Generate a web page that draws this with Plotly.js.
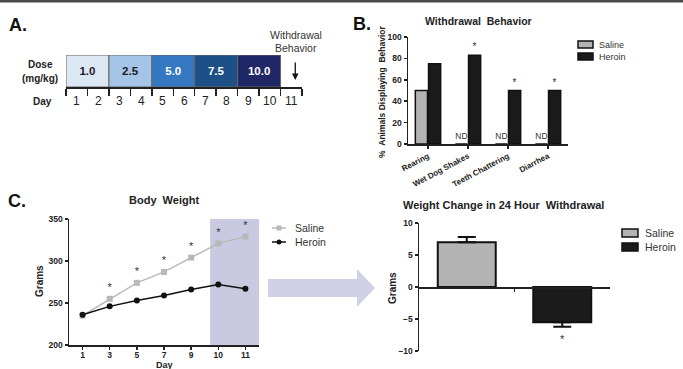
<!DOCTYPE html>
<html><head><meta charset="utf-8">
<script src="https://cdn.plot.ly/plotly-3.0.1.min.js"></script>
<style>html,body{margin:0;padding:0;background:#fff;}#chart{width:683px;height:369px;}</style>
</head><body><div id="chart"></div>
<script>
// ---------- Panel A: dosing schedule ----------
const doseLabels = ["1.0", "2.5", "5.0", "7.5", "10.0"];
const doseStartDay = [1, 3, 5, 7, 9];
const days = [1, 2, 3, 4, 5, 6, 7, 8, 9, 10, 11];
// ---------- Panel B: withdrawal behavior ----------
const behaviors = ["Rearing", "Wet Dog Shakes", "Teeth Chattering", "Diarrhea"];
const salineBehavior = [50, 0, 0, 0];
const heroinBehavior = [75, 83, 50, 50];
const salineBehaviorNote = ["", "ND", "ND", "ND"];
const heroinBehaviorNote = ["", "*", "*", "*"];
// ---------- Panel C: body weight ----------
const weightDays = ["1", "3", "5", "7", "9", "10", "11"];
const salineWeight = [235, 255, 274, 287, 304, 321, 329];
const heroinWeight = [236, 246, 253, 259, 266, 272, 267];
const weightSig = ["", "*", "*", "*", "*", "*", "*"];
// ---------- Panel D: weight change ----------
const groups = ["Saline", "Heroin"];
const weightChange = [7.0, -5.5];
const weightChangeErr = [0.8, 0.7];

// styles
const W = 683, H = 369;
const px = p => p / W, py = p => 1 - p / H;
const FONT = "Liberation Sans, Arial, sans-serif";
const INK = "#222";
const doseColors = ["#dde7f3", "#a6c4e5", "#3478c2", "#1e5088", "#202766"];
const doseTextColors = ["#1a1a2a", "#1a1a2a", "#ffffff", "#ffffff", "#ffffff"];
const salineGray = "#b3b3b3", heroinBlack = "#1b1b1b";
const salineLine = "#b8b8b8";

const traces = [
  {
    type: "bar", x: doseStartDay.map(d => d + 0.5), y: doseLabels.map(() => 1), base: 0, width: 2,
    text: doseLabels, textposition: "inside", insidetextanchor: "middle", constraintext: "none",
    textangle: 0,
    textfont: {family: FONT, size: 11.5, weight: "bold", color: doseTextColors},
    marker: {color: doseColors, line: {color: "#666", width: 1}},
    xaxis: "x", yaxis: "y", hoverinfo: "skip", showlegend: false
  },
  {
    type: "bar", name: "Saline", x: behaviors, y: salineBehavior,
    text: salineBehaviorNote, textposition: "outside", cliponaxis: false,
    textfont: {family: FONT, size: 8.5, color: "#333"},
    marker: {color: salineGray, line: {color: "#111", width: 1.5}},
    xaxis: "x2", yaxis: "y2", showlegend: false
  },
  {
    type: "bar", name: "Heroin", x: behaviors, y: heroinBehavior,
    text: heroinBehaviorNote, textposition: "outside", cliponaxis: false,
    textfont: {family: FONT, size: 10, color: "#333"},
    marker: {color: heroinBlack, line: {color: "#111", width: 1.5}},
    xaxis: "x2", yaxis: "y2", showlegend: false
  },
  {
    type: "scatter", mode: "lines+markers+text", name: "Saline", x: weightDays, y: salineWeight,
    text: weightSig, textposition: "top center", cliponaxis: false,
    textfont: {family: FONT, size: 11, color: "#333"},
    line: {color: salineLine, width: 1.5},
    marker: {symbol: "square", size: 6, color: salineLine},
    xaxis: "x3", yaxis: "y3", showlegend: false
  },
  {
    type: "scatter", mode: "lines+markers", name: "Heroin", x: weightDays, y: heroinWeight,
    line: {color: "#111", width: 1.5},
    marker: {symbol: "circle", size: 6, color: "#111"},
    xaxis: "x3", yaxis: "y3", showlegend: false
  },
  {
    type: "bar", x: groups, y: weightChange,
    marker: {color: [salineGray, heroinBlack], line: {color: "#111", width: 2}},
    error_y: {
      type: "data", symmetric: false,
      array: weightChangeErr.map((e, i) => weightChange[i] >= 0 ? e : 0),
      arrayminus: weightChangeErr.map((e, i) => weightChange[i] < 0 ? e : 0),
      color: "#111", thickness: 2, width: 9
    },
    xaxis: "x4", yaxis: "y4", showlegend: false
  }
];

const tickFont = {family: FONT, size: 8.5, weight: "bold", color: INK};
const axBase = {showgrid: false, zeroline: false, showline: true, linecolor: "#222", linewidth: 1.5,
  ticks: "outside", tickcolor: "#222", tickwidth: 1.5, ticklen: 3, tickfont: tickFont, fixedrange: true};

const ann = (x, y, text, opt = {}) => Object.assign({
  x: px(x), y: py(y), xref: "paper", yref: "paper", text, showarrow: false,
  xanchor: "center", yanchor: "middle",
  font: {family: FONT, size: 10, color: INK}
}, opt);

const annotations = [
  ann(7, 25, "A.", {xanchor: "left", font: {family: FONT, size: 18, weight: "bold", color: "#111"}}),
  ann(351, 24, "B.", {xanchor: "left", font: {family: FONT, size: 18, weight: "bold", color: "#111"}}),
  ann(6, 201, "C.", {xanchor: "left", font: {family: FONT, size: 18, weight: "bold", color: "#111"}}),
  ann(40, 65, "Dose", {font: {family: FONT, size: 10, weight: "bold", color: INK}}),
  ann(40, 79, "(mg/kg)", {font: {family: FONT, size: 10, weight: "bold", color: INK}}),
  ann(42, 101, "Day", {font: {family: FONT, size: 10, weight: "bold", color: INK}}),
  ann(296, 35, "Withdrawal", {font: {family: FONT, size: 10.5, color: "#333"}}),
  ann(296, 48, "Behavior", {font: {family: FONT, size: 10.5, color: "#333"}}),
  {x: 11, xref: "x", y: py(80), yref: "paper", xshift: 4, text: "", showarrow: true,
   ax: 0, ay: -19, arrowhead: 2, arrowsize: 1, arrowwidth: 1.3, arrowcolor: "#111"},
  ann(478, 21, "Withdrawal\u00a0 Behavior", {font: {family: FONT, size: 10.5, weight: "bold", color: INK}}),
  ann(382, 92, "% \u00a0Animals Displaying\u00a0 Behavior", {textangle: -90, font: {family: FONT, size: 8.5, weight: "bold", color: INK}}),
  ann(597, 44.5, groups[0], {xanchor: "left", font: {family: FONT, size: 9, color: "#333"}}),
  ann(597, 56.5, groups[1], {xanchor: "left", font: {family: FONT, size: 9, color: "#333"}}),
  ann(164, 200, "Body\u00a0 Weight", {font: {family: FONT, size: 11, weight: "bold", color: INK}}),
  ann(39, 281, "Grams", {textangle: -90, font: {family: FONT, size: 10, weight: "bold", color: INK}}),
  ann(164, 365, "Day", {font: {family: FONT, size: 9, weight: "bold", color: INK}}),
  ann(293, 228, groups[0], {xanchor: "left", font: {family: FONT, size: 10.5, color: "#333"}}),
  ann(293, 242, groups[1], {xanchor: "left", font: {family: FONT, size: 10.5, color: "#333"}}),
  ann(503.5, 205, "Weight Change in 24 Hour\u00a0 Withdrawal", {font: {family: FONT, size: 11, weight: "bold", color: INK}}),
  ann(392, 288, "Grams", {textangle: -90, font: {family: FONT, size: 10, weight: "bold", color: INK}}),
  ann(643, 233, groups[0], {xanchor: "left", font: {family: FONT, size: 10.5, color: "#333"}}),
  ann(643, 247, groups[1], {xanchor: "left", font: {family: FONT, size: 10.5, color: "#333"}}),
  {x: groups[1], xref: "x4", y: weightChange[1] - weightChangeErr[1], yref: "y4", yshift: -12,
   text: "*", showarrow: false, font: {family: FONT, size: 11, color: "#333"}}
];
days.forEach(d => annotations.push({x: d, xref: "x", y: py(101), yref: "paper", yanchor: "middle",
  text: String(d), showarrow: false, font: {family: FONT, size: 12, color: INK}}));

const rect = (x0, y0, x1, y1, fill, line) => ({type: "rect", xref: "paper", yref: "paper",
  x0: px(x0), x1: px(x1), y0: py(y1), y1: py(y0), fillcolor: fill,
  line: line || {width: 0}});
const arrowPts = [[268, 279], [357, 279], [357, 269], [375, 288], [357, 307], [357, 297], [268, 297]];
const shapes = [
  rect(0, 0, 683, 2.5, "#4a4a4a"),
  {type: "rect", xref: "x3", yref: "y3", x0: 4.7, x1: 6.5, y0: 200, y1: 350, fillcolor: "#c9cae2",
   line: {width: 0}, layer: "below"},
  {type: "path", xref: "paper", yref: "paper", fillcolor: "#d0d1e7", line: {width: 0},
   path: "M" + arrowPts.map(p => px(p[0]) + "," + py(p[1])).join(" L") + " Z"},
  rect(578, 41, 593, 48, salineGray, {color: "#111", width: 1.5}),
  rect(578, 53, 593, 60, heroinBlack, {color: "#111", width: 1.5}),
  {type: "line", xref: "paper", yref: "paper", x0: px(272), x1: px(286), y0: py(228), y1: py(228), line: {color: salineLine, width: 1.5}},
  rect(276.5, 225.5, 281.5, 230.5, salineLine),
  {type: "line", xref: "paper", yref: "paper", x0: px(272), x1: px(286), y0: py(242), y1: py(242), line: {color: "#111", width: 1.5}},
  {type: "circle", xref: "paper", yref: "paper", x0: px(276.5), x1: px(281.5), y0: py(244.5), y1: py(239.5), fillcolor: "#111", line: {width: 0}},
  rect(622, 229, 638, 237, salineGray, {color: "#111", width: 1.5}),
  rect(622, 243, 638, 251, heroinBlack, {color: "#111", width: 1.5})
];

const layout = {
  width: W, height: H, margin: {l: 0, r: 0, t: 0, b: 0},
  paper_bgcolor: "#fff", plot_bgcolor: "rgba(0,0,0,0)",
  font: {family: FONT, color: INK},
  showlegend: false, barmode: "group", bargap: 0.34, bargroupgap: 0.08,
  xaxis: Object.assign({}, axBase, {domain: [px(66), px(302)], range: [0.5, 11.5], anchor: "y",
    tickmode: "array", tickvals: [0.5, 1.5, 2.5, 3.5, 4.5, 5.5, 6.5, 7.5, 8.5, 9.5, 10.5, 11.5],
    ticklen: 7, showticklabels: false}),
  yaxis: {domain: [py(87), py(55)], range: [0, 1], visible: false, anchor: "x", fixedrange: true},
  xaxis2: Object.assign({}, axBase, {domain: [px(408), px(568)], anchor: "y2", type: "category",
    tickangle: -28, tickfont: {family: FONT, size: 8, weight: "bold", color: INK}}),
  yaxis2: Object.assign({}, axBase, {domain: [py(144), py(37)], anchor: "x2", range: [0, 100],
    tickmode: "array", tickvals: [0, 20, 40, 60, 80, 100]}),
  xaxis3: Object.assign({}, axBase, {domain: [px(69), px(259)], anchor: "y3", type: "category",
    range: [-0.5, 6.5], ticklen: 3, ticklabelstandoff: -2,
    tickfont: {family: FONT, size: 8.5, weight: "bold", color: INK}}),
  yaxis3: Object.assign({}, axBase, {domain: [py(345), py(219)], anchor: "x3", range: [200, 350],
    tickmode: "array", tickvals: [200, 250, 300, 350]}),
  xaxis4: Object.assign({}, axBase, {domain: [px(419), px(610)], anchor: "free", position: py(287),
    type: "category", range: [-0.5, 1.5], tickmode: "array", tickvals: [0.5], showticklabels: false}),
  yaxis4: Object.assign({}, axBase, {domain: [py(351), py(223)], anchor: "x4", range: [-10, 10],
    tickmode: "array", tickvals: [-10, -5, 0, 5, 10]}),
  annotations, shapes
};

Plotly.newPlot("chart", traces, layout, {displayModeBar: false, staticPlot: true});
</script></body></html>
